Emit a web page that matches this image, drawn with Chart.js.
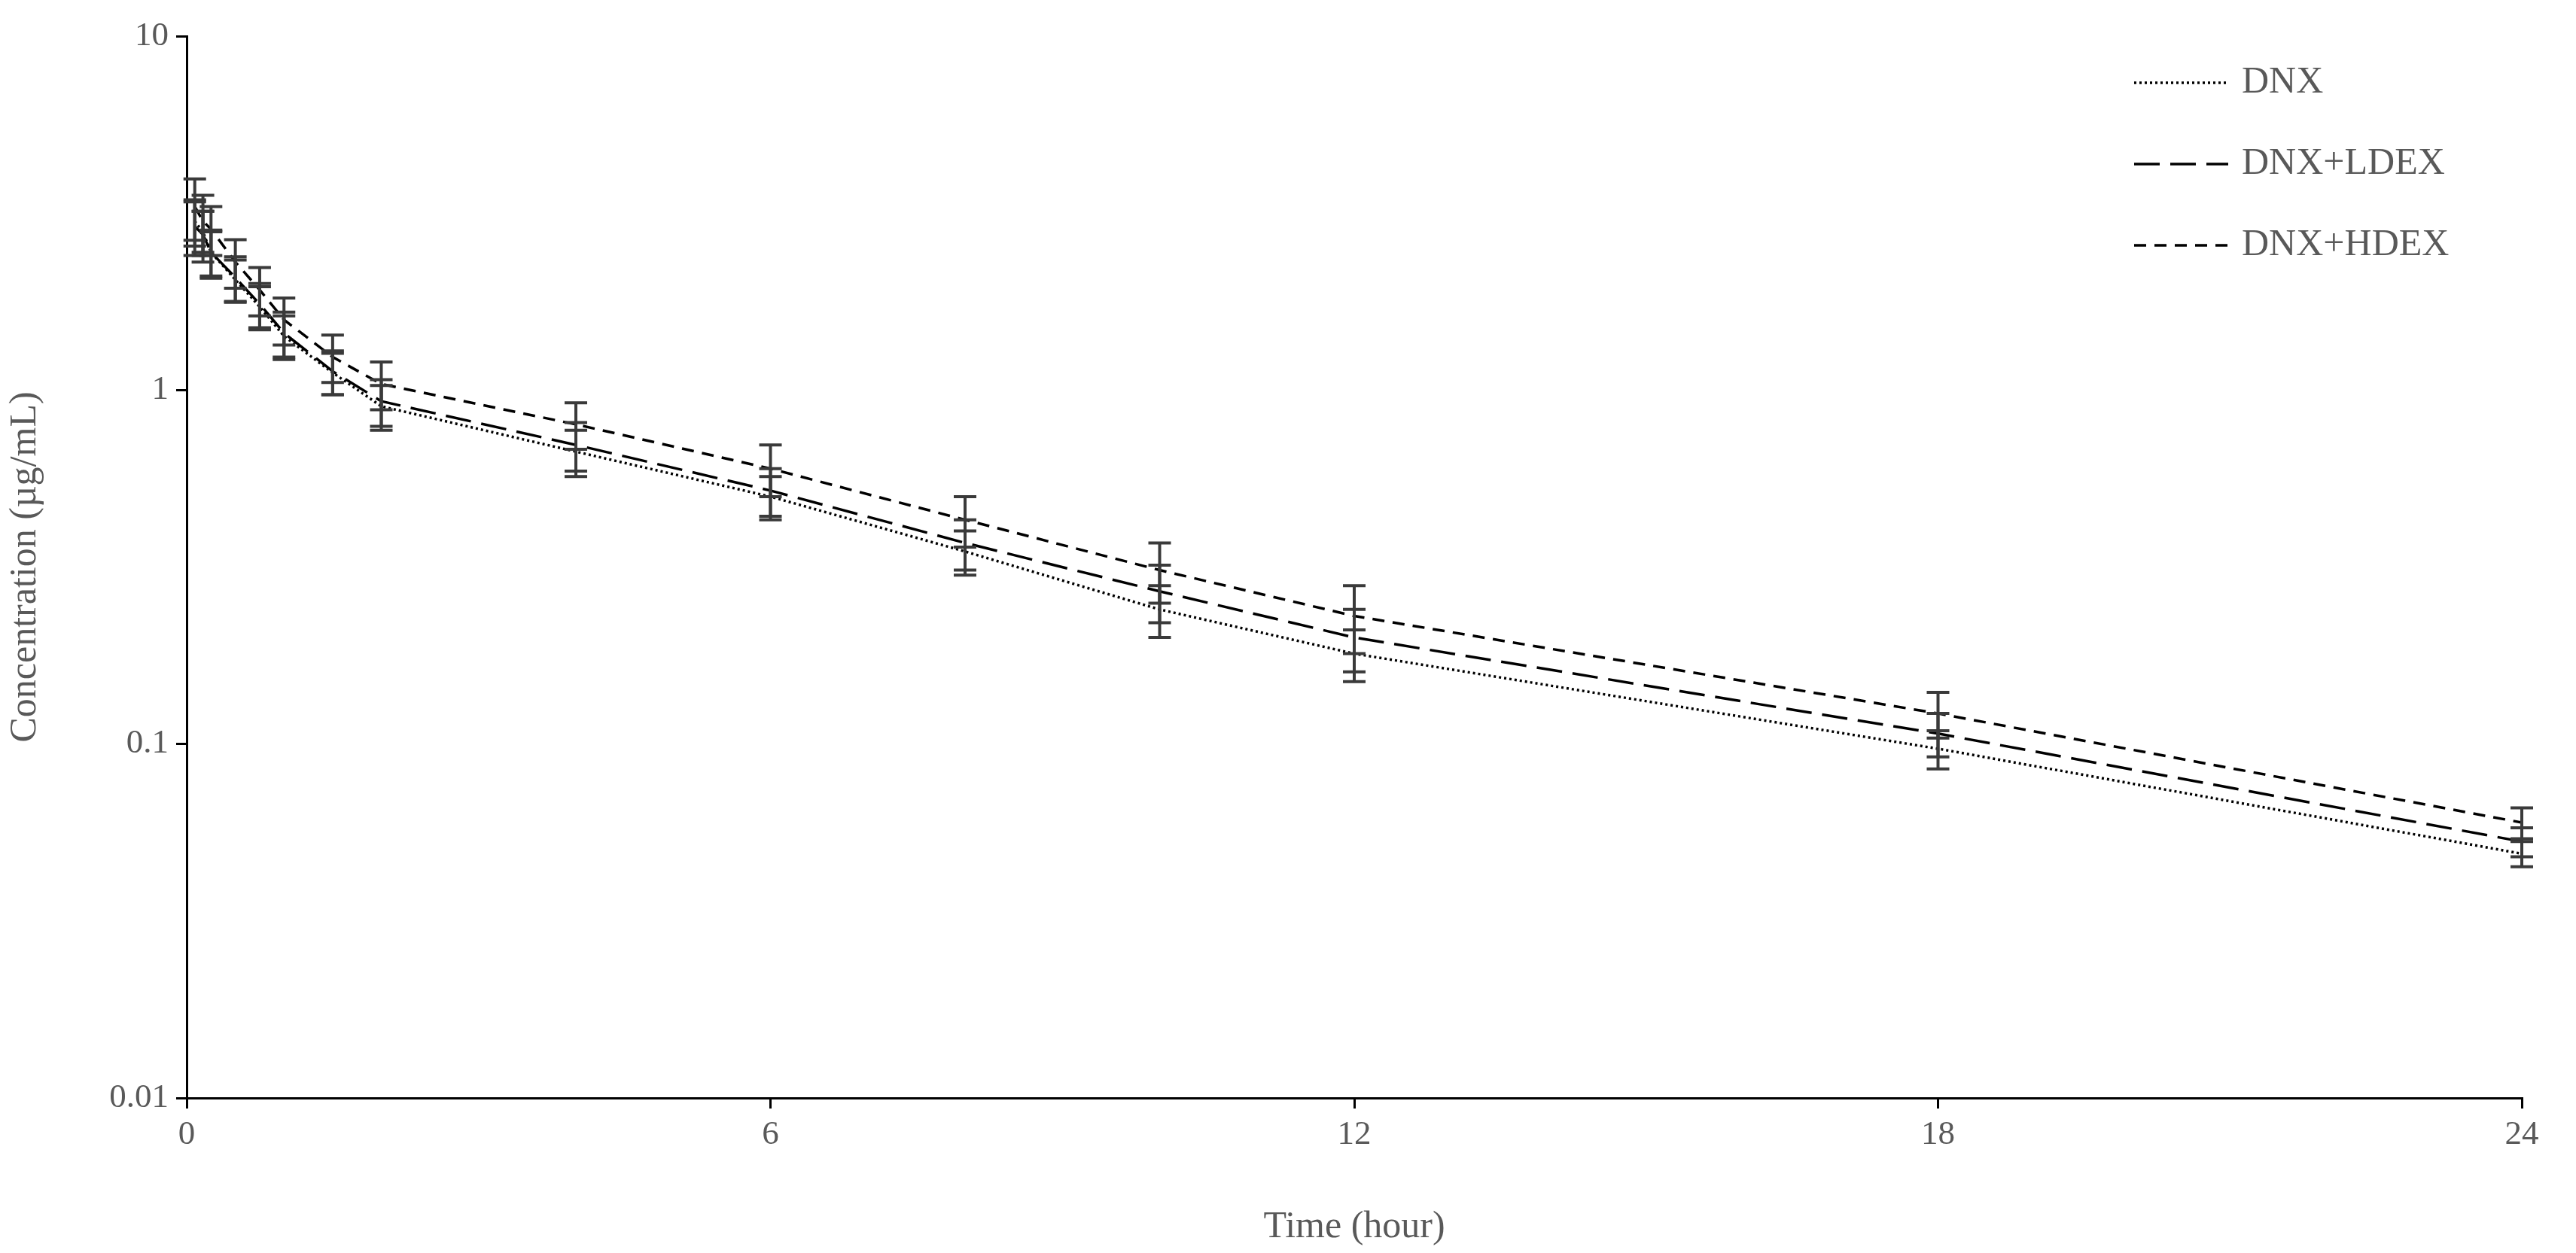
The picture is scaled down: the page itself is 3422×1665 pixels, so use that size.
<!DOCTYPE html>
<html>
<head>
<meta charset="utf-8">
<script src="https://cdn.jsdelivr.net/npm/chart.js@4"></script>
<style>
  html, body { margin: 0; padding: 0; background: #fff; }
  #wrap { width: 3422px; height: 1665px; }
</style>
</head>
<body>
<div id="wrap"><canvas id="pk"></canvas></div>
<script>
// tiempos de muestreo (h)
const times = [0.083, 0.167, 0.25, 0.5, 0.75, 1, 1.5, 2, 4, 6, 8, 10, 12, 18, 24];
const dnx  = [3.0, 2.8, 2.45, 2.05, 1.72, 1.42, 1.12, 0.90, 0.67, 0.50, 0.35, 0.24, 0.18, 0.097, 0.049];
const ldex = [2.9, 2.75, 2.45, 2.08, 1.75, 1.45, 1.13, 0.93, 0.70, 0.52, 0.37, 0.27, 0.20, 0.107, 0.053];
const hdex = [3.3, 3.0, 2.85, 2.3, 1.92, 1.58, 1.24, 1.04, 0.80, 0.60, 0.43, 0.31, 0.23, 0.122, 0.060];
const sdDnx  = [0.45, 0.40, 0.35, 0.28, 0.24, 0.20, 0.15, 0.13, 0.10, 0.07, 0.05, 0.04, 0.03, 0.012, 0.004];
const sdLdex = [0.50, 0.45, 0.38, 0.30, 0.25, 0.21, 0.16, 0.14, 0.11, 0.08, 0.06, 0.05, 0.04, 0.015, 0.005];
const sdHdex = [0.65, 0.55, 0.45, 0.36, 0.30, 0.24, 0.19, 0.16, 0.12, 0.10, 0.07, 0.06, 0.05, 0.018, 0.006];
const xTicks = [0, 6, 12, 18, 24];
const yTicks = [0.01, 0.1, 1, 10];
const names = ["DNX", "DNX+LDEX", "DNX+HDEX"];
const dashes = [[3, 4], [34, 14], [16, 11]];

const font = "'Liberation Serif', 'Times New Roman', serif";
const gray = "#595959";

function pts(ys) { return times.map((t, i) => ({ x: t, y: ys[i] })); }

const errorBars = {
  id: "errorBars",
  afterDatasetsDraw(chart) {
    const { ctx, scales: { x, y } } = chart;
    const sds = [sdDnx, sdLdex, sdHdex];
    ctx.save();
    ctx.strokeStyle = "#3a3a3a";
    ctx.lineWidth = 4;
    chart.data.datasets.forEach((ds, k) => {
      ds.data.forEach((p, i) => {
        const px = x.getPixelForValue(p.x);
        const top = y.getPixelForValue(p.y + sds[k][i]);
        const bot = y.getPixelForValue(p.y - sds[k][i]);
        ctx.beginPath();
        ctx.moveTo(px, top); ctx.lineTo(px, bot);
        ctx.moveTo(px - 15, top); ctx.lineTo(px + 15, top);
        ctx.moveTo(px - 15, bot); ctx.lineTo(px + 15, bot);
        ctx.stroke();
      });
    });
    ctx.restore();
  }
};

const legendRight = {
  id: "legendRight",
  afterDraw(chart) {
    const { ctx } = chart;
    ctx.save();
    ctx.font = "50px " + font;
    ctx.fillStyle = gray;
    ctx.textBaseline = "middle";
    names.forEach((n, i) => {
      const yy = 110 + i * 108;
      ctx.strokeStyle = "#000";
      ctx.lineWidth = 3.5;
      ctx.setLineDash(dashes[i]);
      ctx.beginPath();
      ctx.moveTo(2835, yy); ctx.lineTo(2960, yy);
      ctx.stroke();
      ctx.fillText(n, 2978, yy);
    });
    ctx.restore();
  }
};

new Chart(document.getElementById("pk"), {
  type: "line",
  data: {
    datasets: [dnx, ldex, hdex].map((d, k) => ({
      label: names[k],
      data: pts(d),
      borderColor: "#000",
      borderWidth: 3.5,
      borderDash: dashes[k],
      pointRadius: 0,
      fill: false,
      tension: 0
    }))
  },
  options: {
    responsive: true,
    maintainAspectRatio: false,
    animation: false,
    devicePixelRatio: 1,
    layout: { padding: { top: 48, right: 72, left: 0, bottom: 0 } },
    plugins: { legend: { display: false }, tooltip: { enabled: false } },
    scales: {
      x: {
        type: "linear",
        min: 0, max: 24,
        afterBuildTicks(s) { s.ticks = xTicks.map(v => ({ value: v })); },
        afterFit(s) { s.height = 206; },
        grid: { drawOnChartArea: false, color: "#000", tickLength: 14, lineWidth: 3 },
        border: { color: "#000", width: 3 },
        ticks: { color: gray, font: { family: font, size: 45 }, padding: 8, maxRotation: 0 },
        title: { display: true, text: "Time (hour)", color: gray, font: { family: font, size: 50 }, padding: { top: 0 } }
      },
      y: {
        type: "logarithmic",
        min: 0.01, max: 10,
        afterBuildTicks(s) { s.ticks = yTicks.map(v => ({ value: v })); },
        afterFit(s) { s.width = 248; },
        grid: { drawOnChartArea: false, color: "#000", tickLength: 14, lineWidth: 3 },
        border: { color: "#000", width: 3 },
        ticks: { color: gray, font: { family: font, size: 45 }, padding: 10,
                 callback: v => String(v) },
        title: { display: true, text: "Concentration (µg/mL)", color: gray, font: { family: font, size: 50 } }
      }
    }
  },
  plugins: [errorBars, legendRight]
});
</script>
</body>
</html>
